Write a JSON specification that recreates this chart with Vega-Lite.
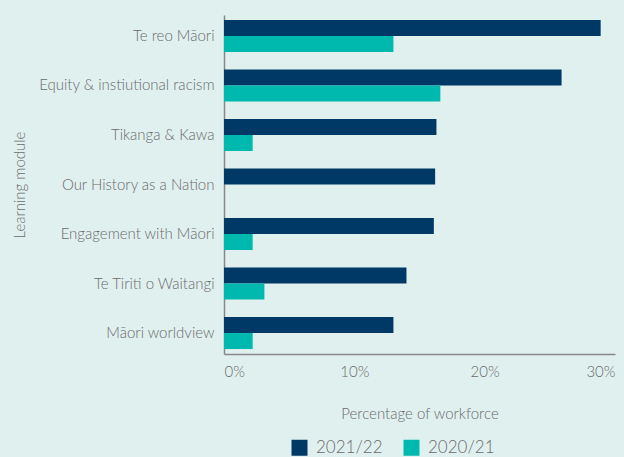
{
  "$schema": "https://vega.github.io/schema/vega-lite/v6.json",
  "width": 391,
  "height": 339,
  "autosize": {"type": "none"},
  "padding": {"left": 224, "top": 15, "right": 9, "bottom": 103},
  "background": "#e0f0ef",
  "config": {
    "view": {"stroke": null},
    "font": "Lato",
    "axis": {"labelFont": "Lato", "titleFont": "Lato", "labelColor": "#6b6b6b", "titleColor": "#6b6b6b", "labelFontWeight": 300, "titleFontWeight": 300},
    "legend": {"labelFont": "Lato", "labelColor": "#6b6b6b", "labelFontWeight": 300}
  },
  "data": {
    "values": [
      {"module": "Te reo Māori", "year": "2021/22", "pct": 0.289},
      {"module": "Te reo Māori", "year": "2020/21", "pct": 0.13},
      {"module": "Equity & instiutional racism", "year": "2021/22", "pct": 0.259},
      {"module": "Equity & instiutional racism", "year": "2020/21", "pct": 0.166},
      {"module": "Tikanga & Kawa", "year": "2021/22", "pct": 0.163},
      {"module": "Tikanga & Kawa", "year": "2020/21", "pct": 0.022},
      {"module": "Our History as a Nation", "year": "2021/22", "pct": 0.162},
      {"module": "Our History as a Nation", "year": "2020/21", "pct": 0},
      {"module": "Engagement with Māori", "year": "2021/22", "pct": 0.161},
      {"module": "Engagement with Māori", "year": "2020/21", "pct": 0.022},
      {"module": "Te Tiriti o Waitangi", "year": "2021/22", "pct": 0.14},
      {"module": "Te Tiriti o Waitangi", "year": "2020/21", "pct": 0.031},
      {"module": "Māori worldview", "year": "2021/22", "pct": 0.13},
      {"module": "Māori worldview", "year": "2020/21", "pct": 0.022}
    ]
  },
  "mark": {"type": "bar"},
  "encoding": {
    "y": {
      "field": "module",
      "type": "nominal",
      "sort": null,
      "scale": {"paddingInner": 0.354, "paddingOuter": 0.1},
      "axis": {
        "title": "Learning module",
        "titleFontSize": 15,
        "titleX": -197,
        "labelFontSize": 15,
        "labelPadding": 10,
        "labelLimit": 0,
        "ticks": false,
        "domainColor": "#888888",
        "domainWidth": 1.5
      }
    },
    "yOffset": {"field": "year", "type": "nominal", "sort": ["2021/22", "2020/21"]},
    "x": {
      "field": "pct",
      "type": "quantitative",
      "scale": {"domain": [0, 0.3], "nice": false},
      "axis": {
        "title": "Percentage of workforce",
        "format": ".0%",
        "values": [0, 0.1, 0.2, 0.3],
        "grid": false,
        "ticks": false,
        "labelFontSize": 15,
        "labelPadding": 10,
        "labelFlush": true,
        "titleFontSize": 15,
        "titlePadding": 27,
        "domainColor": "#888888",
        "domainWidth": 1.5
      }
    },
    "color": {
      "field": "year",
      "type": "nominal",
      "sort": ["2021/22", "2020/21"],
      "scale": {"domain": ["2021/22", "2020/21"], "range": ["#003866", "#00b9ae"]},
      "legend": {
        "title": null,
        "orient": "none",
        "direction": "horizontal",
        "legendX": 67,
        "legendY": 424,
        "symbolType": "square",
        "symbolSize": 256,
        "symbolStrokeWidth": 0,
        "labelFontSize": 17,
        "columnPadding": 20,
        "labelOffset": 8
      }
    }
  }
}
